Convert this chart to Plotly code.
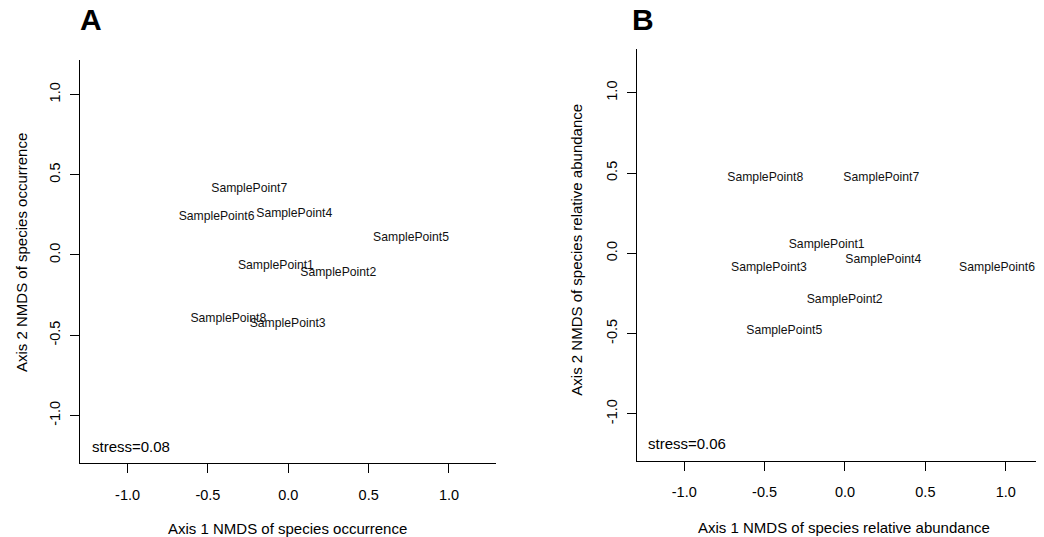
import plotly.graph_objects as go

# Panel A: NMDS of species occurrence
labels_a = ["SamplePoint1", "SamplePoint2", "SamplePoint3", "SamplePoint4",
            "SamplePoint5", "SamplePoint6", "SamplePoint7", "SamplePoint8"]
x_a = [-0.077, 0.311, -0.004, 0.037, 0.764, -0.446, -0.243, -0.373]
y_a = [-0.070, -0.113, -0.431, 0.256, 0.104, 0.239, 0.414, -0.401]
stress_a = "stress=0.08"

# Panel B: NMDS of species relative abundance
labels_b = ["SamplePoint1", "SamplePoint2", "SamplePoint3", "SamplePoint4",
            "SamplePoint5", "SamplePoint6", "SamplePoint7", "SamplePoint8"]
x_b = [-0.114, -0.002, -0.473, 0.238, -0.378, 0.946, 0.226, -0.496]
y_b = [0.052, -0.291, -0.090, -0.042, -0.484, -0.093, 0.468, 0.468]
stress_b = "stress=0.06"

tick_vals = [-1.0, -0.5, 0.0, 0.5, 1.0]
tick_text = ["-1.0", "-0.5", "0.0", "0.5", "1.0"]

# the page body has an 8px default margin, so the figure is drawn 8px in
OFF = 8
W, H = 1044 - OFF, 537 - OFF
FONT = "Arial, Liberation Sans, sans-serif"


def px(x):
    return (x - OFF) / W


def py(y):
    return 1 - (y - OFF) / H


fig = go.Figure()
fig.add_trace(go.Scatter(x=x_a, y=y_a, text=labels_a, mode="text",
                         textposition="middle center",
                         textfont=dict(family=FONT, size=12.2, color="#111111"),
                         xaxis="x", yaxis="y", showlegend=False, hoverinfo="skip",
                         cliponaxis=False))
fig.add_trace(go.Scatter(x=x_b, y=y_b, text=labels_b, mode="text",
                         textposition="middle center",
                         textfont=dict(family=FONT, size=12.2, color="#111111"),
                         xaxis="x2", yaxis="y2", showlegend=False, hoverinfo="skip",
                         cliponaxis=False))

axis_common = dict(
    showline=True, linecolor="#000000", linewidth=1, mirror=False,
    showgrid=False, zeroline=False,
    ticks="outside", ticklen=9, tickwidth=1, tickcolor="#000000",
    tickmode="array", tickvals=tick_vals, ticktext=tick_text,
    tickfont=dict(family=FONT, size=14.5, color="#000000"),
)

fig.update_layout(
    width=W, height=H,
    margin=dict(l=0, r=0, t=0, b=0),
    paper_bgcolor="white", plot_bgcolor="white",
    xaxis=dict(axis_common, domain=[px(80), px(496)], range=[-1.296, 1.2925],
               anchor="y", ticklabelstandoff=9),
    yaxis=dict(axis_common, domain=[py(463.3), py(60)], range=[-1.298, 1.215],
               anchor="x", tickangle=-90, ticklabelstandoff=4),
    xaxis2=dict(axis_common, domain=[px(636.5), 1.0], range=[-1.297, 1.238],
                anchor="y2", ticklabelstandoff=9),
    yaxis2=dict(axis_common, domain=[py(461), py(49.3)], range=[-1.294, 1.271],
                anchor="x2", tickangle=-90, ticklabelstandoff=4),
)

title_font = dict(family=FONT, size=15, color="#000000")
annotations = [
    # panel letters
    dict(text="<b>A</b>", x=px(91.3), y=py(19.5), xref="paper", yref="paper",
         showarrow=False, xanchor="center", yanchor="middle",
         font=dict(family=FONT, size=30, color="#000000")),
    dict(text="<b>B</b>", x=px(642.5), y=py(19.5), xref="paper", yref="paper",
         showarrow=False, xanchor="center", yanchor="middle",
         font=dict(family=FONT, size=30, color="#000000")),
    # axis titles
    dict(text="Axis 1 NMDS of species occurrence", x=px(287.5), y=py(528),
         xref="paper", yref="paper", showarrow=False, xanchor="center",
         yanchor="middle", font=title_font),
    dict(text="Axis 2 NMDS of species occurrence", x=px(21), y=py(253),
         xref="paper", yref="paper", showarrow=False, xanchor="center",
         yanchor="middle", textangle=-90, font=title_font),
    dict(text="Axis 1 NMDS of species relative abundance", x=px(843.5), y=py(527),
         xref="paper", yref="paper", showarrow=False, xanchor="center",
         yanchor="middle", font=title_font),
    dict(text="Axis 2 NMDS of species relative abundance", x=px(576.7), y=py(250),
         xref="paper", yref="paper", showarrow=False, xanchor="center",
         yanchor="middle", textangle=-90, font=title_font),
    # stress
    dict(text=stress_a, x=-1.234, y=-1.194, xref="x", yref="y", showarrow=False,
         xanchor="left", yanchor="middle", font=title_font),
    dict(text=stress_b, x=-1.240, y=-1.188, xref="x2", yref="y2", showarrow=False,
         xanchor="left", yanchor="middle", font=title_font),
]
fig.update_layout(annotations=annotations)

fig.write_html("out.html")
